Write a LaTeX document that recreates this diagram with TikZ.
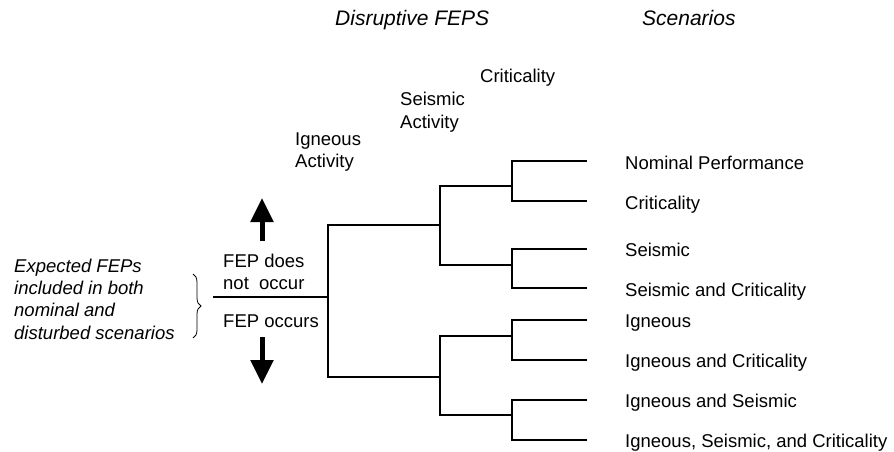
\documentclass[tikz,border=0pt]{standalone}
\usepackage{fontspec}
\setmainfont{Liberation Sans}
\usetikzlibrary{arrows.meta,decorations.pathreplacing}
\begin{document}
\begin{tikzpicture}[x=1pt,y=-1pt,
  tree/.style={line width=1.3pt},
  lbl/.style={anchor=west,inner sep=0pt,font=\fontsize{18.5}{22.5}\selectfont,text height=13pt,text depth=4pt},
  mlbl/.style={anchor=west,inner sep=0pt,font=\fontsize{18.5}{22.5}\selectfont,align=left},
  ilbl/.style={mlbl,font=\fontsize{18.5}{22.3}\selectfont\itshape},
  head/.style={anchor=west,inner sep=0pt,font=\fontsize{21}{25}\selectfont\itshape,text height=15pt,text depth=4pt},
  bigarrow/.style={line width=5pt,-{Triangle[length=24pt,width=22pt]}}]
\useasboundingbox (0,0) rectangle (894,452);
% headers
\node[head] (hd) at (335,20) {Disruptive FEPS};
\node[head] (hs) at (642,20) {Scenarios};
% FEP labels
\node[lbl] (fc) at (480,78) {Criticality};
\node[mlbl] (fs) at (400,112) {Seismic\\Activity};
\node[mlbl] (fi) at (295,152) {Igneous\\Activity};
% left text
\node[ilbl] (exp) at (14,299) {Expected FEPs\\included in both\\nominal and\\disturbed scenarios};
\node[mlbl] (no) at (223,272) {FEP does\\not\ \ occur};
\node[lbl] (yes) at (223,323) {FEP occurs};
% brace
\coordinate (bt) at (193,274);
\coordinate (bb) at (193,338);
\draw[line width=0.8pt,decorate,decoration={brace,amplitude=8pt}] (bt) -- (bb);
% arrows
\coordinate (ua0) at (262,241);
\coordinate (ua1) at (262,198);
\coordinate (da0) at (262,337);
\coordinate (da1) at (262,384);
\draw[bigarrow] (ua0) -- (ua1);
\draw[bigarrow] (da0) -- (da1);
% tree
\coordinate (r0) at (213,297);
\coordinate (n1) at (328,297);
\coordinate (u1) at (440,225);
\coordinate (l1) at (440,377);
\coordinate (uu) at (512,186);
\coordinate (ul) at (512,265);
\coordinate (lu) at (512,336);
\coordinate (ll) at (512,415);
\coordinate (e1) at (587,161);
\coordinate (e2) at (587,201);
\coordinate (e3) at (587,249);
\coordinate (e4) at (587,288);
\coordinate (e5) at (587,320);
\coordinate (e6) at (587,360);
\coordinate (e7) at (587,400);
\coordinate (e8) at (587,440);
\draw[tree] (r0) -- (n1);
\draw[tree] (n1) |- (u1);
\draw[tree] (n1) |- (l1);
\draw[tree] (u1) |- (uu);
\draw[tree] (u1) |- (ul);
\draw[tree] (l1) |- (lu);
\draw[tree] (l1) |- (ll);
\draw[tree] (uu) |- (e1);
\draw[tree] (uu) |- (e2);
\draw[tree] (ul) |- (e3);
\draw[tree] (ul) |- (e4);
\draw[tree] (lu) |- (e5);
\draw[tree] (lu) |- (e6);
\draw[tree] (ll) |- (e7);
\draw[tree] (ll) |- (e8);
% scenarios
\node[lbl] (s1) at (625,165) {Nominal Performance};
\node[lbl] (s2) at (625,205) {Criticality};
\node[lbl] (s3) at (625,252) {Seismic};
\node[lbl] (s4) at (625,292) {Seismic and Criticality};
\node[lbl] (s5) at (625,323) {Igneous};
\node[lbl] (s6) at (625,363) {Igneous and Criticality};
\node[lbl] (s7) at (625,403) {Igneous and Seismic};
\node[lbl] (s8) at (625,443) {Igneous, Seismic, and Criticality};
\end{tikzpicture}
\end{document}
